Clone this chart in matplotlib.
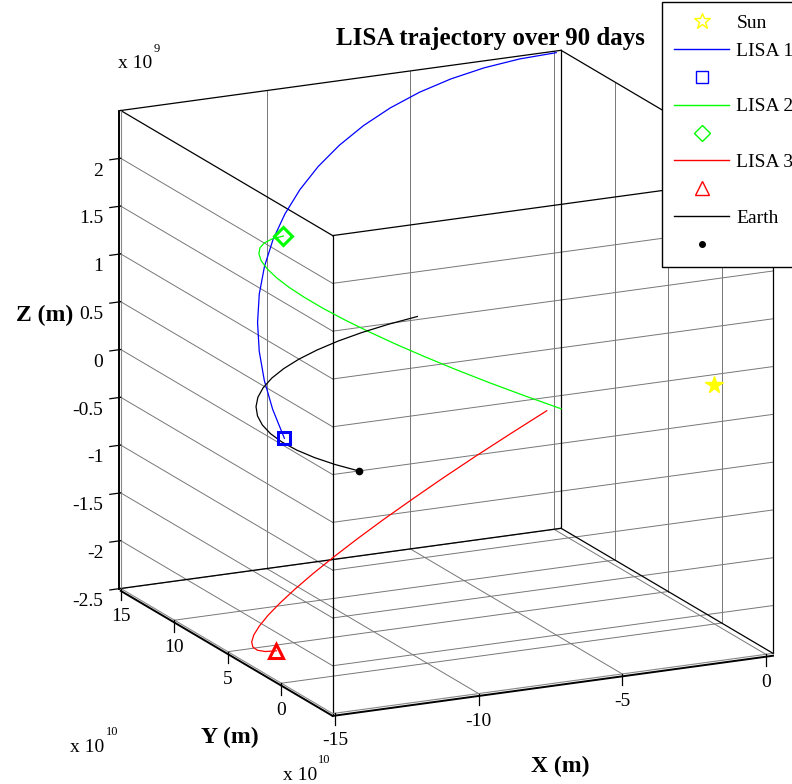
"""LISA trajectory over 90 days: three spacecraft, Earth and Sun in a 3D box."""
import matplotlib
matplotlib.use("Agg")
import matplotlib.pyplot as plt
from matplotlib.lines import Line2D
import numpy as np

plt.rcParams.update({
    "font.family": ["Liberation Serif", "DejaVu Serif"],
    "font.size": 14,
})

# ----------------- Data (x, y in 1e10 m, z in 1e9 m, every 5 days) ------
earth_x = [-5.117, -6.306, -7.449, -8.536, -9.561, -10.514, -11.389, -12.182,
           -12.882, -13.489, -13.995, -14.398, -14.695, -14.882, -14.958,
           -14.924, -14.780, -14.528, -14.167]
earth_y = [14.058, 13.566, 12.973, 12.287, 11.506, 10.643, 9.700, 8.686,
           7.607, 6.472, 5.288, 4.066, 2.813, 1.541, 0.256, -1.031, -2.310,
           -3.571, -4.807]
earth_z = [0.0, 0.0, 0.0, 0.0, 0.0, 0.0, 0.0, 0.0, 0.0, 0.0, 0.0, 0.0, 0.0,
           0.0, 0.0, 0.0, 0.0, 0.0, 0.0]

lisa1_x = [0.000, -1.297, -2.587, -3.855, -5.093, -6.295, -7.446, -8.543,
           -9.574, -10.534, -11.412, -12.206, -12.907, -13.514, -14.016,
           -14.415, -14.706, -14.889, -14.960]
lisa1_y = [14.816, 14.760, 14.590, 14.311, 13.922, 13.428, 12.831, 12.136,
           11.352, 10.478, 9.528, 8.508, 7.420, 6.277, 5.087, 3.858, 2.603,
           1.326, 0.040]
lisa1_z = [2.500, 2.491, 2.463, 2.417, 2.354, 2.272, 2.174, 2.060, 1.931,
           1.787, 1.630, 1.462, 1.282, 1.093, 0.895, 0.691, 0.482, 0.270,
           0.055]

lisa2_x = [0.250, -1.030, -2.304, -3.559, -4.788, -5.984, -7.133, -8.232,
           -9.268, -10.237, -11.127, -11.935, -12.653, -13.280, -13.803,
           -14.223, -14.536, -14.739, -14.830]
lisa2_y = [15.032, 14.988, 14.834, 14.573, 14.203, 13.729, 13.155, 12.481,
           11.718, 10.863, 9.931, 8.926, 7.852, 6.718, 5.534, 4.308, 3.051,
           1.770, 0.476]
lisa2_z = [-1.250, -1.059, -0.861, -0.656, -0.446, -0.233, -0.018, 0.197,
           0.410, 0.621, 0.826, 1.026, 1.218, 1.401, 1.574, 1.735, 1.883,
           2.018, 2.137]

lisa3_x = [-0.250, -1.528, -2.797, -4.043, -5.260, -6.441, -7.573, -8.652,
           -9.667, -10.615, -11.484, -12.271, -12.969, -13.578, -14.085,
           -14.492, -14.795, -14.992, -15.081]
lisa3_y = [15.032, 14.967, 14.792, 14.511, 14.124, 13.634, 13.047, 12.364,
           11.595, 10.738, 9.807, 8.807, 7.741, 6.620, 5.450, 4.242, 3.004,
           1.743, 0.471]
lisa3_z = [-1.250, -1.432, -1.602, -1.761, -1.908, -2.039, -2.156, -2.257,
           -2.341, -2.408, -2.457, -2.487, -2.500, -2.494, -2.469, -2.426,
           -2.365, -2.287, -2.192]

sun_xyz = [0.0, 0.0, 0.0]

x_ticks = [-15, -10, -5, 0]
y_ticks = [0, 5, 10, 15]
z_ticks = [-2.5, -2, -1.5, -1, -0.5, 0, 0.5, 1, 1.5, 2]
z_tick_labels = ["-2.5", "-2", "-1.5", "-1", "-0.5", "0", "0.5", "1", "1.5", "2"]

legend_labels = ["Sun", "LISA 1", " ", "LISA 2", " ", "LISA 3", " ", "Earth", " "]

XLIM = (-15.081, 0.25)
YLIM = (-4.807, 15.032)
ZLIM = (-2.5, 2.5)

# ----------------- Style -------------------------------------------------
W, H = 792, 784
C = {"l1": "#0000ff", "l2": "#00ff00", "l3": "#ff0000", "earth": "#000000",
     "sun": "#ffff00", "grid": "#777777"}


def _fx(px):
    return px / W


def _fy(py):
    return 1 - py / H


def _to_px(ax, x, y, z):
    """Figure pixel (origin bottom-left) of a 3D data point."""
    v = ax.get_proj() @ np.array([x, y, z, 1.0])
    return ax.transData.transform((v[0] / v[3], v[1] / v[3]))


def _fit_axes(fig, ax, anchors):
    """Scale/shift the (square) 3D axes so box corners land on target pixels."""
    L0 = H
    ax.set_position([(W - L0) / 2 / W, 0, L0 / W, 1])
    fig.canvas.draw()
    P = np.array([_to_px(ax, *xyz) for xyz, _ in anchors])
    T = np.array([(tx, H - ty) for _, (tx, ty) in anchors])
    pm, tm = P.mean(0), T.mean(0)
    s = ((P - pm) * (T - tm)).sum() / ((P - pm) ** 2).sum()
    c = tm - s * (pm - np.array([W / 2, H / 2]))
    L = s * L0
    ax.set_position([(c[0] - L / 2) / W, (c[1] - L / 2) / H, L / W, L / H])


def _label3d(fig, ax, x, y, z, s, **kw):
    px, py = _to_px(ax, x, y, z)
    fig.text(px / W, py / H, s, **kw)


fig = plt.figure(figsize=(W / 100, H / 100), dpi=100)
ax = fig.add_axes([0, 0, 1, 1], projection="3d", proj_type="ortho",
                  computed_zorder=False)
ax.view_init(elev=16.5, azim=-115.7)
ax.set_box_aspect((1, 1, 1.02))
ax.set_xlim(*XLIM)
ax.set_ylim(*YLIM)
ax.set_zlim(*ZLIM)
ax.set_axis_off()

x0, x1 = XLIM
y0, y1 = YLIM
z0, z1 = ZLIM

# grid lines on the box faces
g = dict(color=C["grid"], lw=0.7, zorder=1)
for z in z_ticks[1:]:
    ax.plot([x0, x0], [y1, y0], [z, z], **g)
    ax.plot([x0, x1], [y0, y0], [z, z], **g)
for x in x_ticks[1:]:
    ax.plot([x, x], [y0, y1], [z0, z0], **g)
    ax.plot([x, x], [y1, y1], [z0, z1], **g)
for y in y_ticks:
    ax.plot([x0, x1], [y, y], [z0, z0], **g)
    ax.plot([x1, x1], [y, y], [z0, z1], **g)

# box edges
e = dict(color="black", lw=0.9, zorder=2)
ax.plot([x0, x1], [y1, y1], [z1, z1], **e)
ax.plot([x0, x1], [y0, y0], [z1, z1], **e)
ax.plot([x0, x0], [y0, y1], [z1, z1], **e)
ax.plot([x1, x1], [y0, y1], [z1, z1], **e)
ax.plot([x0, x0], [y0, y0], [z0, z1], **e)
ax.plot([x1, x1], [y0, y0], [z0, z1], **e)
ax.plot([x1, x1], [y1, y1], [z0, z1], **e)
eb = dict(color="#888888", lw=0.8, zorder=2)
ax.plot([x0, x1], [y0, y0], [z0, z0], **eb)
ax.plot([x0, x0], [y0, y1], [z0, z0], **eb)
ax.plot([x0, x1], [y1, y1], [z0, z0], **e)
ax.plot([x1, x1], [y0, y1], [z0, z0], **e)
ax.plot([x0, x0], [y1, y1], [z0, z1], **eb)
# axis lines (drawn just off the box edges, as in the original)
a = dict(color="black", lw=1.4, zorder=3)
ax.plot([x0, x1], [y0, y0], [z0 - 0.025, z0 - 0.025], **a)
ax.plot([x0, x0], [y0, y1], [z0 - 0.025, z0 - 0.025], **a)
ax.plot([x0 - 0.05, x0 - 0.05], [y1, y1], [z0, z1], **a)

# tick marks
t = dict(color="black", lw=0.9, zorder=3)
for z in z_ticks:
    ax.plot([x0, x0 - 0.38], [y1, y1], [z, z], **t)
for x in x_ticks:
    ax.plot([x, x], [y0, y0], [z0, z0 - 0.12], **t)
for y in y_ticks:
    ax.plot([x0, x0], [y, y], [z0, z0 - 0.12], **t)

# trajectories
ax.plot(lisa1_x, lisa1_y, lisa1_z, color=C["l1"], lw=0.9, zorder=5)
ax.plot(lisa2_x, lisa2_y, lisa2_z, color=C["l2"], lw=0.9, zorder=5)
ax.plot(lisa3_x, lisa3_y, lisa3_z, color=C["l3"], lw=0.9, zorder=5)
ax.plot(earth_x, earth_y, earth_z, color=C["earth"], lw=0.9, zorder=5)

# end-point markers and the Sun
ax.plot([sun_xyz[0]], [sun_xyz[1]], [sun_xyz[2]], ls="none", marker="*",
        ms=13, color=C["sun"], zorder=6)
ax.plot([lisa1_x[-1]], [lisa1_y[-1]], [lisa1_z[-1]], ls="none", marker="s",
        ms=9, mfc="none", mec=C["l1"], mew=2.2, zorder=6)
ax.plot([lisa2_x[-1]], [lisa2_y[-1]], [lisa2_z[-1]], ls="none", marker="D",
        ms=9, mfc="none", mec=C["l2"], mew=2.2, zorder=6)
ax.plot([lisa3_x[-1]], [lisa3_y[-1]], [lisa3_z[-1]], ls="none", marker="^",
        ms=10, mfc="none", mec=C["l3"], mew=2.2, zorder=6)
ax.plot([earth_x[-1]], [earth_y[-1]], [earth_z[-1]], ls="none", marker="o",
        ms=4.5, color=C["earth"], zorder=6)

_fit_axes(fig, ax, [
    ((x0, y1, z1), (118, 110)),
    ((x0, y0, z1), (333, 235)),
    ((x0, y0, z0), (333, 712)),
    ((x1, y0, z0), (774, 652)),
    ((x1, y1, z0), (563, 530)),
    ((x1, y1, z1), (563, 55)),
    ((x0, y1, z0), (118, 586)),
])

# tick labels, placed at the projected tick positions
for z, lab in zip(z_ticks, z_tick_labels):
    _label3d(fig, ax, x0 - 0.6, y1, z - 0.11, lab, ha="right", va="center",
             fontsize=14)
for x in x_ticks:
    _label3d(fig, ax, x, y0, z0 - 0.29, f"{x:d}", ha="center", va="center",
             fontsize=14)
for y in y_ticks:
    _label3d(fig, ax, x0, y, z0 - 0.29, f"{y:d}", ha="center", va="center",
             fontsize=14)

# ----------------- Titles and axis labels --------------------------------
fig.text(_fx(490), _fy(38), "LISA trajectory over 90 days", ha="center",
         va="center", fontsize=18, fontweight="bold")
fig.text(_fx(73), _fy(315), "Z (m)", ha="right", va="center", fontsize=17,
         fontweight="bold")
fig.text(_fx(230), _fy(737), "Y (m)", ha="center", va="center", fontsize=17,
         fontweight="bold")
fig.text(_fx(560), _fy(766), "X (m)", ha="center", va="center", fontsize=17,
         fontweight="bold")
for (tx, ty), (sx, sy), exp in [((118, 64), (154, 49), "9"),
                                ((70, 747), (106, 732), "10"),
                                ((283, 776), (318, 760), "10")]:
    fig.text(_fx(tx), _fy(ty), "x 10", ha="left", va="center", fontsize=14)
    fig.text(_fx(sx), _fy(sy), exp, ha="left", va="center", fontsize=9)

# ----------------- Legend ------------------------------------------------
handles = [
    Line2D([], [], ls="none", marker="*", ms=12, mfc="none", mec=C["sun"], mew=1),
    Line2D([], [], color=C["l1"], lw=1),
    Line2D([], [], ls="none", marker="s", ms=9, mfc="none", mec=C["l1"], mew=1),
    Line2D([], [], color=C["l2"], lw=1),
    Line2D([], [], ls="none", marker="D", ms=8, mfc="none", mec=C["l2"], mew=1),
    Line2D([], [], color=C["l3"], lw=1),
    Line2D([], [], ls="none", marker="^", ms=10, mfc="none", mec=C["l3"], mew=1),
    Line2D([], [], color=C["earth"], lw=1),
    Line2D([], [], ls="none", marker="o", ms=4, color=C["earth"]),
]
leg = fig.legend(handles, legend_labels, loc="upper left",
                 bbox_to_anchor=(_fx(662), _fy(2)), borderaxespad=0,
                 fontsize=14, handlelength=2.85, handletextpad=0.36,
                 labelspacing=0.53, borderpad=0.62, fancybox=False,
                 edgecolor="black", framealpha=1)
leg.get_frame().set_linewidth(1.0)

fig.savefig("out.png", dpi=100)
